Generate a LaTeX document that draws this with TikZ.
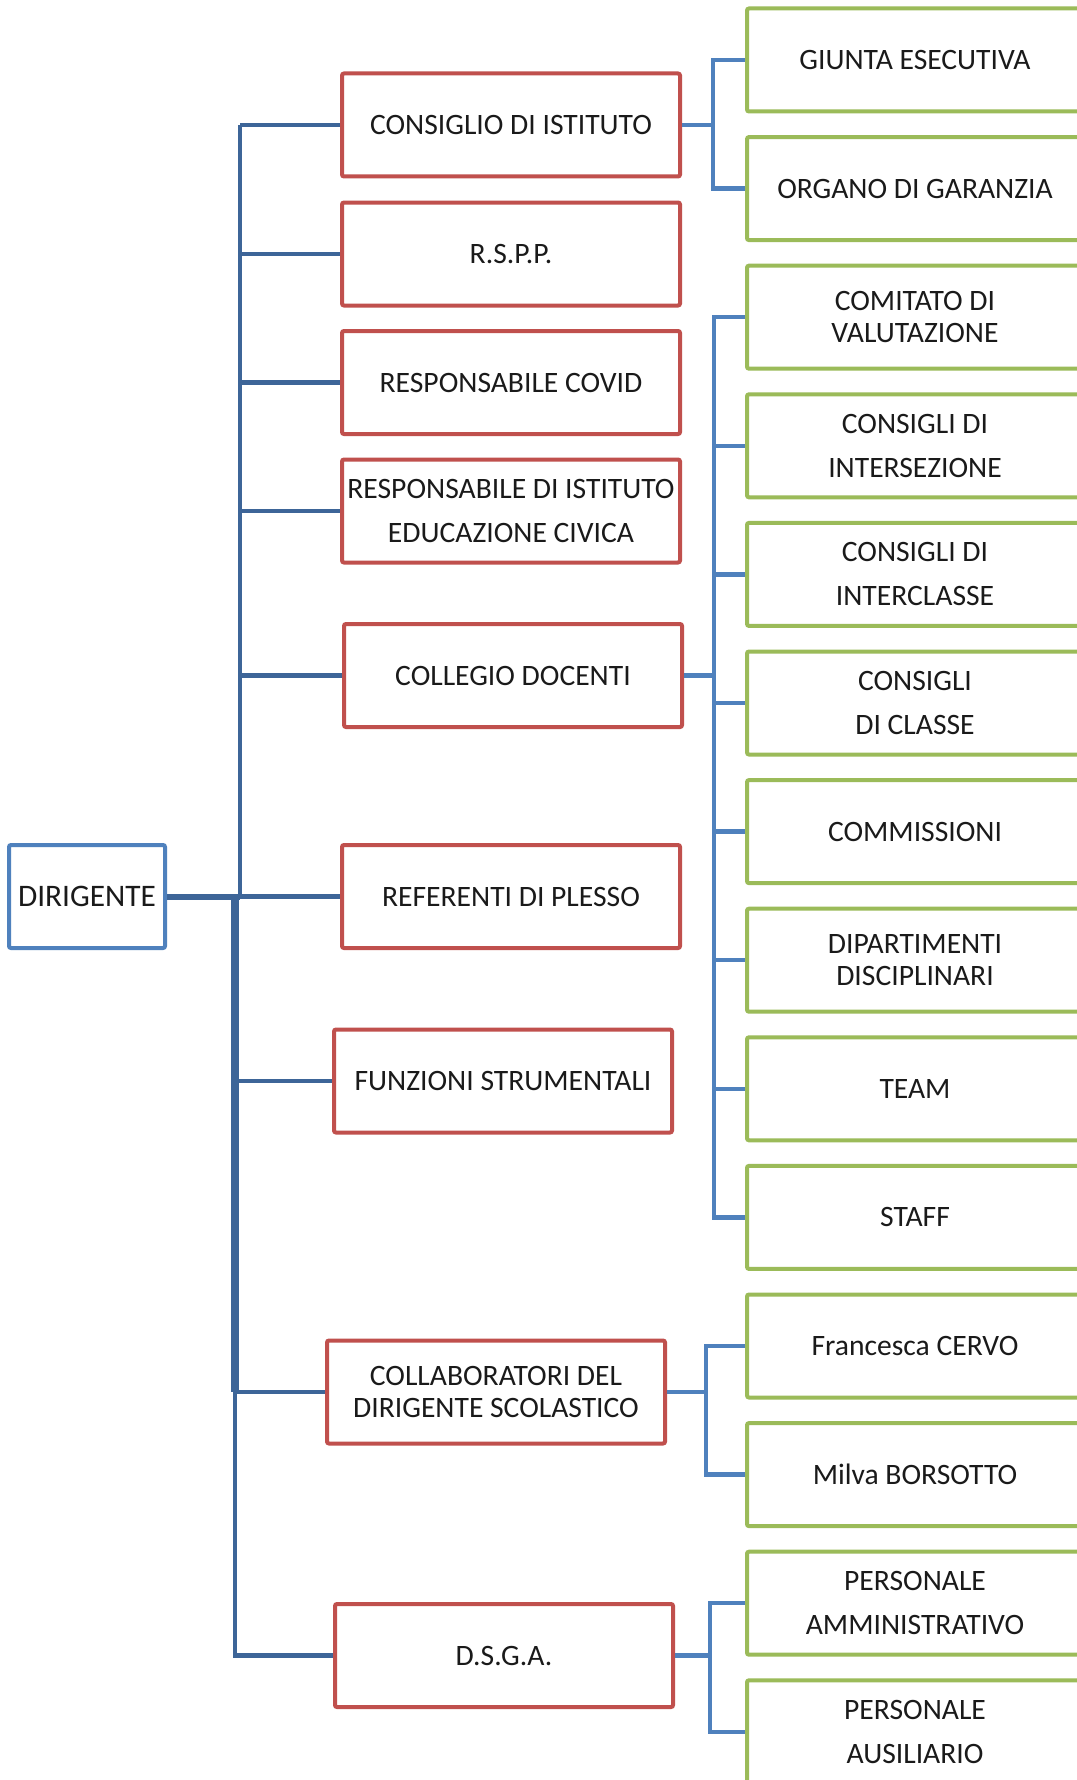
\documentclass[tikz,border=0pt]{standalone}
\usepackage{fontspec}
\setmainfont{Carlito}
\definecolor{redb}{HTML}{C0504D}
\definecolor{greenb}{HTML}{9BBB59}
\definecolor{blueb}{HTML}{4F81BD}
\definecolor{trunkb}{HTML}{3D6598}
\definecolor{txt}{HTML}{1A1A1A}
\begin{document}
\begin{tikzpicture}[x=0.75pt,y=-0.75pt,
  box/.style={draw, line width=3pt, rounded corners=1.5pt, fill=white, inner sep=0pt,
    align=center, text=txt, font=\fontsize{22.2}{24}\selectfont},
  redbox/.style={box, draw=redb, minimum width=253.5pt, minimum height=77.25pt},
  greenbox/.style={box, draw=greenb, minimum width=252pt, minimum height=77.25pt},
  bluebox/.style={box, draw=blueb, minimum width=117pt, minimum height=77.25pt,
    font=\fontsize{23.5}{26}\selectfont},
  loose/.style={font=\fontsize{22.2}{33}\selectfont},
  conn/.style={draw=blueb, line width=3.3pt},
  trunk/.style={draw=trunkb, line width=3.3pt},
  thicktrunk/.style={draw=trunkb, line width=6.5pt}]
\clip (0,0) rectangle (1077,1780);
\fill[white] (0,0) rectangle (1077,1780);

% root
\node[bluebox] (DIR) at (87,896.5) {DIRIGENTE};

% red boxes
\node[redbox] (CONS)   at (511,125)    {CONSIGLIO DI ISTITUTO};
\node[redbox] (RSPP)   at (511,254)    {R.S.P.P.};
\node[redbox] (COVID)  at (511,382.5)  {RESPONSABILE COVID};
\node[redbox,loose] (EDUC) at (511,511) {RESPONSABILE DI ISTITUTO\\EDUCAZIONE CIVICA};
\node[redbox] (COLL)   at (513,675.5)  {COLLEGIO DOCENTI};
\node[redbox] (REF)    at (511,896.5)  {REFERENTI DI PLESSO};
\node[redbox] (FUNZ)   at (503,1081)   {FUNZIONI STRUMENTALI};
\node[redbox] (COLLAB) at (496,1392)   {COLLABORATORI DEL\\DIRIGENTE SCOLASTICO};
\node[redbox] (DSGA)   at (504,1655.5) {D.S.G.A.};

% green boxes
\node[greenbox] (G1)  at (915,60)     {GIUNTA ESECUTIVA};
\node[greenbox] (G2)  at (915,188.6)  {ORGANO DI GARANZIA};
\node[greenbox] (G3)  at (915,317.2)  {COMITATO DI\\VALUTAZIONE};
\node[greenbox,loose] (G4)  at (915,445.8)  {CONSIGLI DI\\INTERSEZIONE};
\node[greenbox,loose] (G5)  at (915,574.4)  {CONSIGLI DI\\INTERCLASSE};
\node[greenbox,loose] (G6)  at (915,703)    {CONSIGLI\\DI CLASSE};
\node[greenbox] (G7)  at (915,831.6)  {COMMISSIONI};
\node[greenbox] (G8)  at (915,960.2)  {DIPARTIMENTI\\DISCIPLINARI};
\node[greenbox] (G9)  at (915,1088.8) {TEAM};
\node[greenbox] (G10) at (915,1217.4) {STAFF};
\node[greenbox] (G11) at (915,1346)   {Francesca CERVO};
\node[greenbox] (G12) at (915,1474.6) {Milva BORSOTTO};
\node[greenbox,loose] (G13) at (915,1603.2) {PERSONALE\\AMMINISTRATIVO};
\node[greenbox,loose] (G14) at (915,1731.8) {PERSONALE\\AUSILIARIO};

% main trunk
\coordinate (ttop) at (240,125);
\coordinate (tmid) at (240,896.5);
\coordinate (lb)   at (235,896.5);
\draw[trunk] (ttop) -- (tmid);
\foreach \n in {CONS,RSPP,COVID,EDUC,COLL,REF}
  \draw[trunk] (tmid |- \n.west) -- (\n.west);
\draw[thicktrunk] (lb) -- (lb |- COLLAB.west);
\draw[trunk] (lb |- COLLAB.west) -- (lb |- DSGA.west) -- (DSGA.west);
\draw[trunk] (lb |- FUNZ.west) -- (FUNZ.west);
\draw[trunk] (lb |- COLLAB.west) -- (COLLAB.west);
\draw[draw=trunkb, line width=4.5pt] (DIR.east) -- (tmid);

% right-side groups
\coordinate (cb1) at (713,125);
\draw[conn] (CONS.east) -- (cb1);
\draw[conn] (G1.west) -| (cb1) |- (G2.west);

\coordinate (cb2) at (714,675.5);
\draw[conn] (COLL.east) -- (cb2);
\draw[conn] (G3.west) -| (cb2 |- G10.west) -- (G10.west);
\foreach \n in {G4,G5,G6,G7,G8,G9}
  \draw[conn] (cb2 |- \n.west) -- (\n.west);

\coordinate (cb3) at (706,1392);
\draw[conn] (COLLAB.east) -- (cb3);
\draw[conn] (G11.west) -| (cb3) |- (G12.west);

\coordinate (cb4) at (710,1655.5);
\draw[conn] (DSGA.east) -- (cb4);
\draw[conn] (G13.west) -| (cb4) |- (G14.west);
\end{tikzpicture}
\end{document}
